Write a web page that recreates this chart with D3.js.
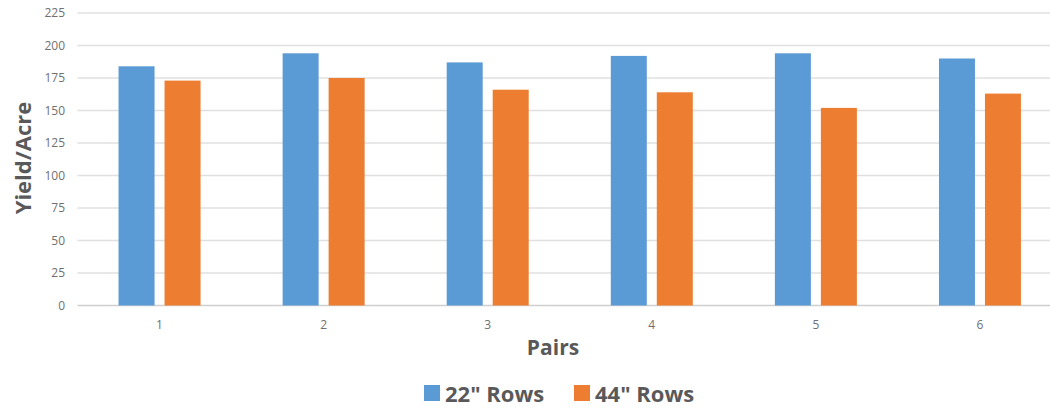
<!DOCTYPE html>
<html><head><meta charset="utf-8">
<script src="https://cdn.jsdelivr.net/npm/d3@7"></script>
<style>body{margin:0;background:#fff}svg{display:block}</style>
</head><body>
<script>
const categories = ["1","2","3","4","5","6"];
const seriesNames = ["22\" Rows","44\" Rows"];
const rows22 = [184,194,187,192,194,190];
const rows44 = [173,175,166,164,152,163];
const yTicks = [0,25,50,75,100,125,150,175,200,225];
const colors = ["#5B9BD5","#ED7D31"];

const W=1050,H=411;
const svg=d3.select("body").append("svg").attr("width",W).attr("height",H);
const font="'Open Sans', sans-serif";
const x=d3.scaleBand().domain(categories).range([77.5,1062]).paddingInner(0).paddingOuter(0);
const y=d3.scaleLinear().domain([0,225]).range([305.5,13]);
const sub=d3.scaleBand().domain([0,1]).range([0,82]).paddingInner(10/46);

// gridlines
svg.append("g").selectAll("line").data(yTicks).join("line")
  .attr("x1",77.5).attr("x2",1062).attr("y1",d=>y(d)).attr("y2",d=>y(d))
  .attr("stroke",d=>d===0?"#d0d0d0":"#e0e0e0").attr("stroke-width",1.3);

// y axis labels
const ya=svg.append("g").attr("transform","translate(65,0)")
  .call(d3.axisLeft(y).tickValues(yTicks).tickSize(0).tickPadding(0));
ya.select(".domain").remove();
ya.selectAll("text").attr("font-family",font).attr("font-size",12).attr("fill","#707070");

// x axis labels
const xa=svg.append("g").attr("transform","translate(0,305.5)")
  .call(d3.axisBottom(x).tickSize(0).tickPadding(15));
xa.select(".domain").remove();
xa.selectAll("text").attr("font-family",font).attr("font-size",12).attr("fill","#707070");

// bars
const data=[rows22,rows44];
data.forEach((vals,si)=>{
  svg.append("g").selectAll("rect").data(vals).join("rect")
    .attr("x",(d,i)=>x(categories[i])+x.bandwidth()/2-41+sub(si))
    .attr("width",sub.bandwidth())
    .attr("y",d=>y(d)).attr("height",d=>y(0)-y(d))
    .attr("fill",colors[si]);
});

// axis titles
svg.append("text").attr("transform","translate(31,158) rotate(-90)")
  .attr("text-anchor","middle").attr("font-family",font).attr("font-weight","bold")
  .attr("font-size",22).attr("fill","#595959").text("Yield/Acre");
svg.append("text").attr("x",553).attr("y",355).attr("text-anchor","middle")
  .attr("font-family",font).attr("font-weight","bold").attr("font-size",21)
  .attr("fill","#595959").text("Pairs");

// legend
const legX=[424,574];
seriesNames.forEach((n,i)=>{
  svg.append("rect").attr("x",legX[i]).attr("y",385).attr("width",16).attr("height",16).attr("fill",colors[i]);
  svg.append("text").attr("x",legX[i]+21).attr("y",402).attr("font-family",font)
    .attr("font-weight","bold").attr("font-size",22).attr("fill","#595959").text(n);
});
</script>
</body></html>
